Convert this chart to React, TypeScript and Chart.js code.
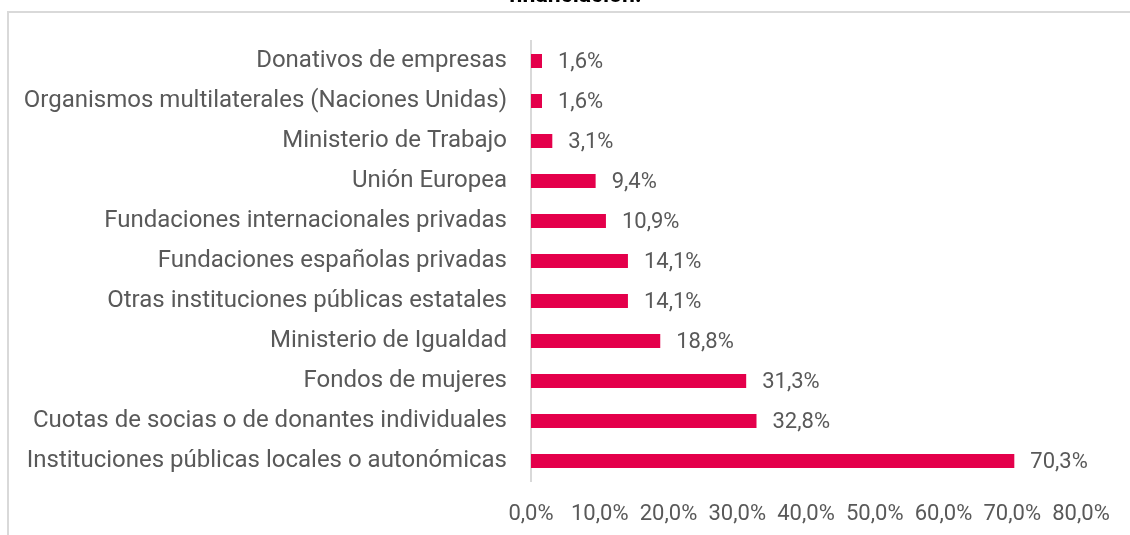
import React, { useEffect, useRef } from "react";
import { Chart, registerables } from "chart.js";

Chart.register(...registerables);

const categories = [
  "Donativos de empresas",
  "Organismos multilaterales (Naciones Unidas)",
  "Ministerio de Trabajo",
  "Unión Europea",
  "Fundaciones internacionales privadas",
  "Fundaciones españolas privadas",
  "Otras instituciones públicas estatales",
  "Ministerio de Igualdad",
  "Fondos de mujeres",
  "Cuotas de socias o de donantes individuales",
  "Instituciones públicas locales o autonómicas",
];

const values = [1.6, 1.6, 3.1, 9.4, 10.9, 14.1, 14.1, 18.8, 31.3, 32.8, 70.3];

const xTicks = [0, 10, 20, 30, 40, 50, 60, 70, 80];

const titleText = "financiación:";

const fmt = (v: number) => v.toFixed(1).replace(".", ",") + "%";

const FONT = "Roboto";
const TEXT = "#595959";

export default function App() {
  const ref = useRef<HTMLCanvasElement | null>(null);

  useEffect(() => {
    if (!ref.current) return;
    const labelPlugin = {
      id: "valueLabels",
      afterDatasetsDraw(chart: any) {
        const ctx = chart.ctx;
        const meta = chart.getDatasetMeta(0);
        ctx.save();
        ctx.font = `22px ${FONT}`;
        ctx.fillStyle = TEXT;
        ctx.textAlign = "left";
        ctx.textBaseline = "middle";
        meta.data.forEach((bar: any, i: number) => {
          ctx.fillText(fmt(values[i]), bar.x + 16, bar.y + 1);
        });
        ctx.restore();
      },
      afterDraw(chart: any) {
        const ctx = chart.ctx;
        ctx.save();
        ctx.font = `bold 23px ${FONT}`;
        ctx.fillStyle = "#000000";
        ctx.textAlign = "center";
        ctx.textBaseline = "alphabetic";
        ctx.fillText(titleText, 575, 2);
        ctx.restore();
      },
    };

    const chart = new Chart(ref.current, {
      type: "bar",
      data: {
        labels: categories,
        datasets: [
          {
            data: values,
            backgroundColor: "#E4004B",
            categoryPercentage: 1,
            barPercentage: 0.35,
          },
        ],
      },
      options: {
        indexAxis: "y",
        animation: false,
        responsive: false,
        maintainAspectRatio: false,
        layout: { padding: { top: 41, right: 49, bottom: 0, left: 0 } },
        plugins: {
          legend: { display: false },
          tooltip: { enabled: false },
          title: { display: false },
        },
        scales: {
          y: {
            grid: { display: false, drawTicks: false },
            border: { display: true, color: "#d9d9d9", width: 2 },
            ticks: {
              color: TEXT,
              font: { family: FONT, size: 24 },
              padding: 24,
            },
            afterFit: (s: any) => {
              s.width = 531;
            },
          },
          x: {
            min: 0,
            max: 80,
            grid: { display: false, drawTicks: false },
            border: { display: false },
            afterBuildTicks: (s: any) => {
              s.ticks = xTicks.map((v) => ({ value: v }));
            },
            ticks: {
              color: TEXT,
              font: { family: FONT, size: 22 },
              padding: 20,
              maxRotation: 0,
              autoSkip: false,
              callback: (v: any) => fmt(Number(v)),
            },
            afterFit: (s: any) => {
              s.height = 54;
            },
          },
        },
      },
      plugins: [labelPlugin],
    });
    return () => chart.destroy();
  }, []);

  return (
    <div
      style={{
        position: "fixed",
        left: 0,
        top: 0,
        width: 1130,
        height: 535,
        background: "#ffffff",
        overflow: "hidden",
      }}
    >
      <div
        style={{
          position: "absolute",
          left: 7,
          top: 11,
          width: 1200,
          height: 600,
          borderLeft: "2px solid #d9d9d9",
          borderTop: "2px solid #d9d9d9",
        }}
      />
      <canvas
        ref={ref}
        width={1130}
        height={535}
        style={{ position: "absolute", left: 0, top: 0, width: 1130, height: 535 }}
      />
    </div>
  );
}
